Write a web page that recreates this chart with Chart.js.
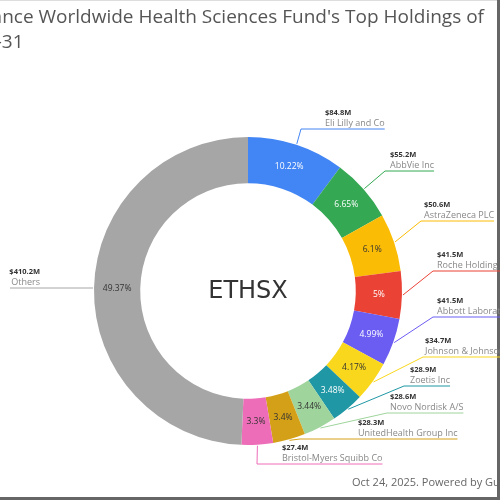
<!DOCTYPE html>
<html>
<head>
<meta charset="utf-8">
<script src="https://cdn.jsdelivr.net/npm/chart.js@4.4.1/dist/chart.umd.min.js"></script>
<style>
  html, body { margin: 0; padding: 0; background: #fff; }
  #wrap { width: 500px; height: 500px; position: relative; }
</style>
</head>
<body>
<div id="wrap"><canvas id="holdings-chart" width="500" height="500"></canvas></div>
<script>
// fund holdings, $M
const holdings = ['Eli Lilly and Co', 'AbbVie Inc', 'AstraZeneca PLC', 'Roche Holding AG', 'Abbott Laboratories',
  'Johnson & Johnson', 'Zoetis Inc', 'Novo Nordisk A/S', 'UnitedHealth Group Inc', 'Bristol-Myers Squibb Co', 'Others'];
const values = [84.8, 55.2, 50.6, 41.5, 41.5, 34.7, 28.9, 28.6, 28.3, 27.4, 410.2];
const pctLabels = ['10.22%', '6.65%', '6.1%', '5%', '4.99%', '4.17%', '3.48%', '3.44%', '3.4%', '3.3%', '49.37%'];
const ticker = 'ETHSX';
const titleLines = ["Eaton Vance Worldwide Health Sciences Fund's Top Holdings of", '2025-07-31'];
const footer = 'Oct 24, 2025. Powered by GuruFocus';

const colors = ['#4285f4', '#34a853', '#fbbc05', '#ea4335', '#6b5cf2', '#f9d71c', '#1f97a4',
  '#9fd49c', '#d4a017', '#ee6db8', '#a6a6a6'];
const pctDark = [false, false, true, false, false, true, false, true, true, true, true];

// where the callout for each slice sits (text x, value text y, elbow x)
const callouts = [
  { tx: 325, ty: 113, ex: 301 },
  { tx: 390, ty: 155, ex: 385 },
  { tx: 424, ty: 205, ex: 421 },
  { tx: 437, ty: 255, ex: 433 },
  { tx: 437, ty: 301, ex: 433 },
  { tx: 425, ty: 341, ex: 423 },
  { tx: 410, ty: 370, ex: 404 },
  { tx: 390, ty: 397, ex: 387 },
  { tx: 358, ty: 423, ex: 300 },
  { tx: 282, ty: 448, ex: 257 },
  { tx: 40, ty: 272, ex: 10, left: true }
];

const labelPlugin = {
  id: 'labelPlugin',
  afterDraw(chart) {
    const ctx = chart.ctx;
    const meta = chart.getDatasetMeta(0);
    ctx.save();

    // frame
    ctx.fillStyle = '#dddddd';
    ctx.fillRect(0, 0, 500, 1);
    ctx.fillStyle = '#666666';
    ctx.fillRect(497, 0, 3, 500);
    ctx.fillRect(0, 497, 500, 3);

    // title, shifted left like the source crop
    ctx.font = '19px "Open Sans", sans-serif';
    ctx.fillStyle = '#555';
    ctx.textBaseline = 'middle';
    ctx.textAlign = 'left';
    const w1 = ctx.measureText(titleLines[0]).width;
    const tLeft = 484 - w1;
    ctx.fillText(titleLines[0], tLeft, 18);
    ctx.fillText(titleLines[1], tLeft, 43);

    // footer
    ctx.font = '11px "Open Sans", sans-serif';
    ctx.fillStyle = '#666';
    ctx.fillText(footer, 352, 483);

    meta.data.forEach((arc, i) => {
      const mid = (arc.startAngle + arc.endAngle) / 2;
      const rMid = (arc.innerRadius + arc.outerRadius) / 2;

      // percent inside the ring
      ctx.font = '8.5px "Open Sans", sans-serif';
      ctx.textAlign = 'center';
      ctx.fillStyle = pctDark[i] ? '#333' : '#fff';
      ctx.fillText(pctLabels[i], arc.x + Math.cos(mid) * rMid, arc.y + Math.sin(mid) * rMid);

      // callout
      const c = callouts[i];
      const lineY = c.ty + 16;
      const sx = arc.x + Math.cos(mid) * (arc.outerRadius + 1);
      const sy = arc.y + Math.sin(mid) * (arc.outerRadius + 1);
      const valText = '$' + values[i].toFixed(1) + 'M';
      ctx.font = '9px "Open Sans", sans-serif';
      const nameW = ctx.measureText(holdings[i]).width;

      ctx.strokeStyle = colors[i];
      ctx.lineWidth = 1;
      ctx.beginPath();
      if (c.left) {
        ctx.moveTo(sx, lineY);
        ctx.lineTo(c.ex, lineY);
      } else {
        ctx.moveTo(sx, sy);
        ctx.lineTo(c.ex, lineY);
        ctx.lineTo(c.tx + nameW, lineY);
      }
      ctx.stroke();

      ctx.textAlign = c.left ? 'right' : 'left';
      ctx.fillStyle = '#888';
      ctx.fillText(holdings[i], c.tx, c.ty + 10);
      ctx.font = 'bold 7.5px "Open Sans", sans-serif';
      ctx.fillStyle = '#333';
      ctx.fillText(valText, c.tx, c.ty);
    });

    // center ticker
    ctx.font = '24px "DejaVu Sans", sans-serif';
    ctx.fillStyle = '#333';
    ctx.textAlign = 'center';
    ctx.fillText(ticker, meta.data[0].x, meta.data[0].y + 1);
    ctx.restore();
  }
};

new Chart(document.getElementById('holdings-chart'), {
  type: 'doughnut',
  data: {
    labels: holdings,
    datasets: [{
      data: values,
      backgroundColor: colors,
      borderWidth: 0
    }]
  },
  options: {
    responsive: false,
    animation: false,
    cutout: '70%',
    layout: { padding: { left: 94, right: 98, top: 137, bottom: 55 } },
    plugins: {
      legend: { display: false },
      tooltip: { enabled: false },
      title: { display: false }
    }
  },
  plugins: [labelPlugin]
});
</script>
</body>
</html>
